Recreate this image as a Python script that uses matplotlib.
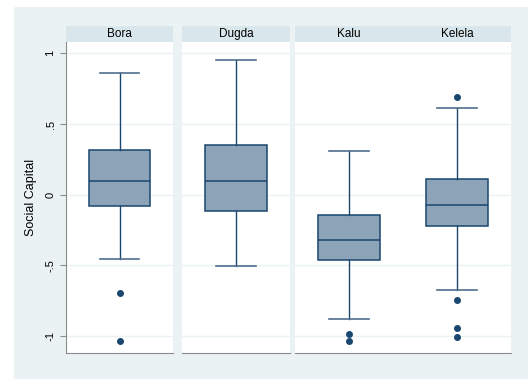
import matplotlib.pyplot as plt
from matplotlib.patches import Rectangle

plt.rcParams['font.family'] = ['Liberation Sans', 'DejaVu Sans']

# valores (Social Capital por woreda)
grupos = ['Bora', 'Dugda', 'Kalu', 'Kelela']
whislo = [-0.455, -0.507, -0.877, -0.675]
q1 = [-0.080, -0.115, -0.462, -0.224]
mediana = [0.094, 0.097, -0.321, -0.075]
q3 = [0.313, 0.354, -0.144, 0.111]
whishi = [0.861, 0.955, 0.311, 0.611]
atipicos = [[-0.698, -1.035], [], [-0.988, -1.035], [0.691, -0.745, -0.946, -1.007]]

paneles = [['Bora'], ['Dugda'], ['Kalu', 'Kelela']]
yticks = [-1, -0.5, 0, 0.5, 1]
ytick_labels = ['-1', '-.5', '0', '.5', '1']

navy = '#1a476f'
relleno = '#8da4b8'
fondo = '#eaf2f3'
franja = '#d9e6eb'

W, H = 528, 379
fig = plt.figure(figsize=(W / 100, H / 100), dpi=100, facecolor='white')
fig.patches.append(Rectangle((14 / W, 0), 1, (H - 7) / H, transform=fig.transFigure,
                             facecolor=fondo, edgecolor='none', zorder=-10))

# posiciones de los paneles en pixeles (x0, x1)
xs = [(66, 173), (182, 290), (295, 511)]
top, bot, strip = 42, 353, 26

for i, (nombres, (x0, x1)) in enumerate(zip(paneles, xs)):
    ax = fig.add_axes([x0 / W, (H - bot) / H, (x1 - x0) / W, (bot - top) / H])
    stats = []
    for n in nombres:
        k = grupos.index(n)
        stats.append(dict(med=mediana[k], q1=q1[k], q3=q3[k], whislo=whislo[k],
                          whishi=whishi[k], fliers=atipicos[k]))
    ax.bxp(stats, positions=range(1, len(nombres) + 1), widths=0.57,
           capwidths=0.365, patch_artist=True,
           boxprops=dict(facecolor=relleno, edgecolor=navy, linewidth=1.1),
           medianprops=dict(color=navy, linewidth=1.1),
           whiskerprops=dict(color=navy, linewidth=1.0),
           capprops=dict(color='#4f6e8c', linewidth=1.2),
           flierprops=dict(marker='o', markerfacecolor=navy, markeredgecolor=navy,
                           markersize=4))
    ax.set_xlim(0.5, len(nombres) + 0.5)
    ax.set_ylim(-1.12, 1.08)
    ax.set_yticks(yticks)
    for y in yticks:
        ax.axhline(y, color=fondo, linewidth=1, zorder=0)
    ax.set_xticks([])
    for s in ['top', 'right']:
        ax.spines[s].set_visible(False)
    ax.spines['bottom'].set_color('#8c8c8c')
    if i == 0:
        ax.spines['left'].set_color('#8c8c8c')
        ax.set_yticklabels(ytick_labels, rotation=90, va='center', fontsize=8)
        ax.tick_params(axis='y', color='#8c8c8c', length=4)
        ax.set_ylabel('Social Capital', fontsize=9, labelpad=6)
    else:
        ax.spines['left'].set_visible(False)
        ax.tick_params(axis='y', left=False, labelleft=False)

    # franja con el nombre del grupo
    hx = fig.add_axes([x0 / W, (H - top) / H, (x1 - x0) / W, (top - strip) / H])
    hx.set_facecolor(franja)
    hx.set_xticks([])
    hx.set_yticks([])
    for s in hx.spines.values():
        s.set_visible(False)
    for j, n in enumerate(nombres):
        hx.text((j + 0.5) / len(nombres), 0.5, n, ha='center', va='center', fontsize=8.5)

plt.savefig('out.png', dpi=100, facecolor='white')
